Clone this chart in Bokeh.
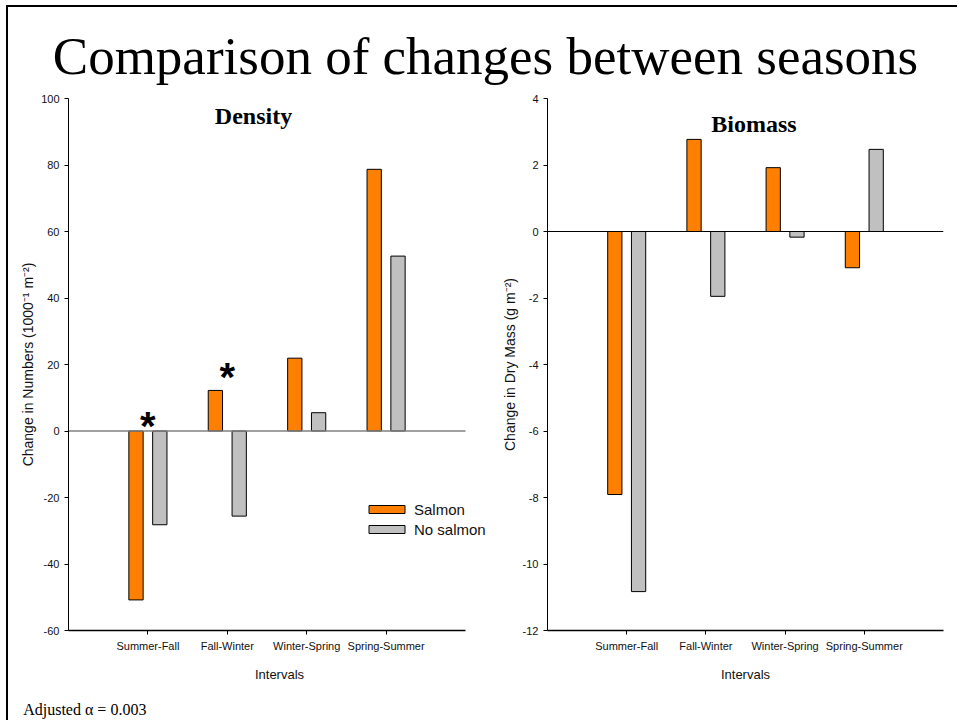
from bokeh.plotting import figure
from bokeh.models import Range1d, FixedTicker, Label, Div, ColumnDataSource
from bokeh.transform import dodge
from bokeh.layouts import row, column
from bokeh.core.properties import value
from bokeh.embed import file_html
from bokeh.resources import INLINE

# ---------------- data ----------------
categories = ["Summer-Fall", "Fall-Winter", "Winter-Spring", "Spring-Summer"]
density_salmon = [-50.8, 12.2, 21.9, 78.7]
density_nosalmon = [-28.2, -25.6, 5.5, 52.6]
biomass_salmon = [-7.91, 2.77, 1.92, -1.09]
biomass_nosalmon = [-10.83, -1.95, -0.17, 2.47]
density_ticks = [-60, -40, -20, 0, 20, 40, 60, 80, 100]
biomass_ticks = [-12, -10, -8, -6, -4, -2, 0, 2, 4]
sig_cats = ["Summer-Fall", "Fall-Winter"]
sig_y = [1.5, 16.3]

ORANGE = "#FF8000"
GRAY = "#C0C0C0"
SANS = "Liberation Sans"
SERIF = "Liberation Serif"

cat_pos = [i + 1 for i in range(len(categories))]   # category slots on the x scale
X_LO, X_HI = 0, len(categories) + 1                  # axis extent


def style_axes(p, ticks):
    p.yaxis.ticker = FixedTicker(ticks=ticks)
    p.yaxis.major_label_overrides = {t: str(t) for t in ticks}
    p.xaxis.ticker = FixedTicker(ticks=cat_pos)
    p.xaxis.major_label_overrides = {pos: c for pos, c in zip(cat_pos, categories)}
    p.xaxis.bounds = (X_LO, X_HI)
    for ax in (p.xaxis[0], p.yaxis[0]):
        ax.major_tick_out = 4
        ax.major_tick_in = 0
        ax.minor_tick_out = 0
        ax.minor_tick_in = 0
        ax.axis_line_color = "black"
        ax.major_tick_line_color = "black"
        ax.major_label_text_font = SANS
        ax.major_label_text_font_size = "11px"
        ax.major_label_text_color = "#111111"
        ax.axis_label_text_font = SANS
        ax.axis_label_text_font_style = "normal"
        ax.axis_label_text_color = "#111111"
        ax.major_label_standoff = 5
    p.xaxis.axis_line_width = 1.5
    p.xaxis.axis_label_text_font_size = "13px"
    p.yaxis.axis_label_text_font_size = "14px"
    p.xaxis.axis_label_standoff = 12
    p.yaxis.axis_label_standoff = 2
    p.xgrid.visible = False
    p.ygrid.visible = False
    p.outline_line_color = None


def make_plot(ymin, ymax, ticks, ylabel, mbl, fw, mbr, x_end, salmon, nosalmon,
              zero_color, zero_width, legend):
    p = figure(x_range=Range1d(X_LO, x_end), y_range=Range1d(ymin, ymax),
               frame_width=fw, frame_height=532,
               min_border_left=mbl, min_border_right=mbr,
               min_border_top=6, min_border_bottom=62,
               output_backend="svg", toolbar_location=None,
               background_fill_color="white", border_fill_color="white")
    src = ColumnDataSource(dict(pos=cat_pos, cat=categories, salmon=salmon, nosalmon=nosalmon))
    kw1 = dict(legend_label="Salmon") if legend else {}
    kw2 = dict(legend_label="No salmon") if legend else {}
    p.vbar(x=dodge("pos", -0.15), top="salmon", bottom=0, width=0.18,
           source=src, fill_color=ORANGE, line_color="black", line_width=1, **kw1)
    p.vbar(x=dodge("pos", 0.15), top="nosalmon", bottom=0, width=0.18,
           source=src, fill_color=GRAY, line_color="black", line_width=1, **kw2)
    # zero reference line across the axis extent
    p.segment(x0=[X_LO], x1=[X_HI], y0=[0], y1=[0], line_color=zero_color,
              line_width=zero_width)
    style_axes(p, ticks)
    p.xaxis.axis_label = "Intervals"
    p.yaxis.axis_label = ylabel
    return p


# ---------------- left: density ----------------
p1 = make_plot(-60, 100, density_ticks, "Change in Numbers (1000\u207b\u00b9 m\u207b\u00b2)",
               60, 422, 2, X_HI + 25 / 79.4, density_salmon, density_nosalmon,
               "#808080", 1.6, True)
sig_src = ColumnDataSource(dict(pos=[cat_pos[categories.index(c)] for c in sig_cats],
                                y=sig_y, t=["*"] * len(sig_cats)))
p1.text(x="pos", y="y", text="t", source=sig_src, text_font=value(SANS),
        text_font_size=value("40px"), text_font_style="bold", text_color="black",
        text_align="center", text_baseline="middle")
p1.add_layout(Label(x=185, y=515, x_units="screen", y_units="screen", text="Density",
                    text_font=SERIF, text_font_size="24px", text_font_style="bold",
                    text_align="center", text_baseline="middle", text_color="black"))
lg = p1.legend[0]
lg.location = (296, 91)
lg.padding = 0
lg.margin = 0
lg.spacing = 0
lg.border_line_alpha = 0
lg.background_fill_alpha = 0
lg.glyph_width = 45
lg.glyph_height = 10
lg.label_height = 20
lg.label_standoff = 5
lg.label_text_font = SANS
lg.label_text_font_size = "15px"
lg.label_text_color = "#111111"

# ---------------- right: biomass ----------------
p2 = make_plot(-12, 4, biomass_ticks, "Change in Dry Mass (g m\u207b\u00b2)",
               55, 396, 14, X_HI, biomass_salmon, biomass_nosalmon, "black", 1.2, False)
p2.add_layout(Label(x=206.5, y=507, x_units="screen", y_units="screen", text="Biomass",
                    text_font=SERIF, text_font_size="24px", text_font_style="bold",
                    text_align="center", text_baseline="middle", text_color="black"))

W = 949


def blank_fig(h):
    f = figure(width=W, height=h, x_range=Range1d(0, W), y_range=Range1d(0, h),
               x_axis_location=None, y_axis_location=None, min_border=0,
               output_backend="svg", toolbar_location=None, outline_line_color=None)
    f.xgrid.visible = False
    f.ygrid.visible = False
    return f


# ---------------- header ----------------
header = blank_fig(85)
header.add_layout(Label(x=477, y=36.2, text="Comparison of changes between seasons",
                        text_font=SERIF, text_font_size="53px", text_align="center",
                        text_baseline="middle", text_color="black"))

# ---------------- footer ----------------
footer = blank_fig(28)
footer.add_layout(Label(x=14.7, y=11, text="Adjusted \u03b1 = 0.003", text_font=SERIF,
                        text_font_size="16px", text_align="left", text_baseline="middle",
                        text_color="black"))

top_gap = Div(text="", width=W + 8, height=5, margin=0)
left_gap = Div(text="", width=6, height=1, margin=0)
top_line = Div(text="", width=W, height=2, margin=0, styles={"background-color": "black"})
left_line = Div(text="", width=2, height=715, margin=0, styles={"background-color": "black"})

inner = column(top_line, header, row(p1, p2, spacing=0), footer, spacing=0)
layout = column(top_gap, row(left_gap, left_line, inner, spacing=0), spacing=0)

open("out.html", "w").write(file_html(layout, INLINE))
